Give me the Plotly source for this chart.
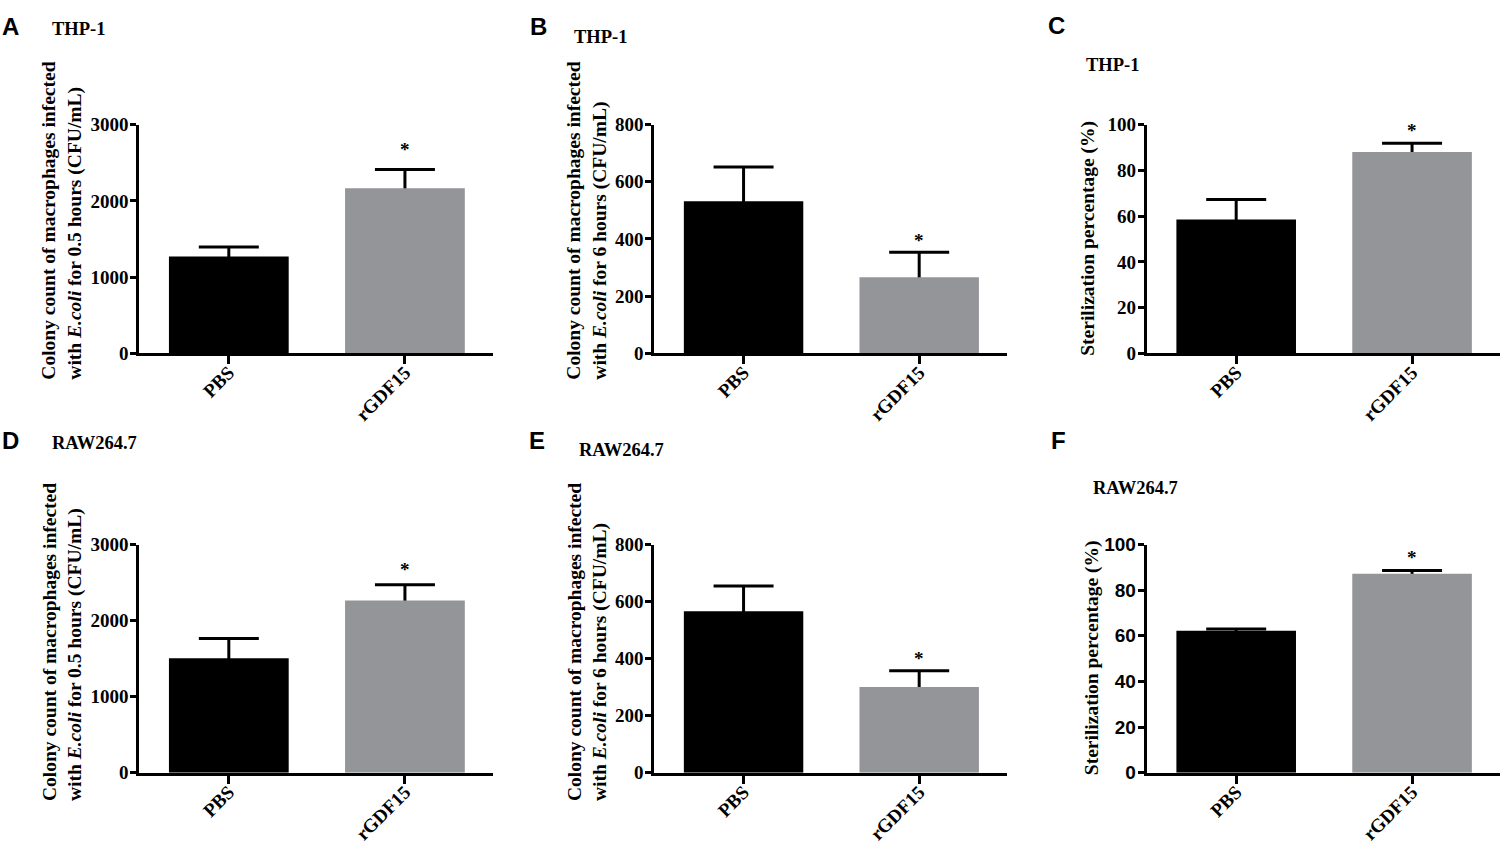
import plotly.graph_objects as go

W, H = 1509, 855

# ---------------- data ----------------
groups = ["PBS", "rGDF15"]
panel_letters = ["A", "B", "C", "D", "E", "F"]
cell_lines = ["THP-1", "THP-1", "THP-1", "RAW264.7", "RAW264.7", "RAW264.7"]

a_mean = [1270, 2165]
a_err = [125, 245]
b_mean = [532, 266]
b_err = [120, 88]
c_mean = [58.5, 88.0]
c_err = [8.8, 3.8]
d_mean = [1505, 2265]
d_err = [260, 205]
e_mean = [566, 301]
e_err = [89, 57]
f_mean = [62.2, 87.2]
f_err = [0.8, 1.4]

y_ranges = [[0, 3000], [0, 800], [0, 100], [0, 3000], [0, 800], [0, 100]]
y_dticks = [1000, 200, 20, 1000, 200, 20]

title_cfu_05 = "Colony count of macrophages infected<br>with <i>E.coli</i> for 0.5 hours (CFU/mL)"
title_cfu_6 = "Colony count of macrophages infected<br>with <i>E.coli</i> for 6 hours (CFU/mL)"
title_steril = "Sterilization percentage (%)"
y_titles = [title_cfu_05, title_cfu_6, title_steril, title_cfu_05, title_cfu_6, title_steril]

means = [a_mean, b_mean, c_mean, d_mean, e_mean, f_mean]
errs = [a_err, b_err, c_err, d_err, e_err, f_err]
significance = ["*", "*", "*", "*", "*", "*"]

# ---------------- layout geometry (pixels) ----------------
col_x = [(139, 493), (654, 1007), (1146.5, 1500)]
row_y = [(117.5, 352), (548, 782)]

bar_colors = ["#000000", "#939598"]
serif = "Liberation Serif"
sans = "Liberation Sans"

# letter (x_left, y_center), subtitle (x_left, y_center), ytitle (x_center, y_bottom)
letter_pos = [(0, 17), (528, 17), (1046, 16), (0, 441), (527, 441), (1049, 441)]
sub_pos = [(50, 19), (572, 28), (1084, 56), (50, 444), (577, 451), (1091, 490)]
ytitle_pos = [(62, 381), (587, 381), (1088, 357), (62, 813), (587, 813), (1092, 787)]
star_shift = [8, -1, 0, 3, 0, 1]
tick_families = [serif, serif, serif, serif, serif, sans]
cap_hide = 0.012  # fraction of y range used to tuck the lower cap under the bar top


def px_x(x):
    return x / W


def px_y(y):
    return 1 - y / H


fig = go.Figure()
annotations = []
layout_axes = {}

for i in range(6):
    r, c = divmod(i, 3)
    n = "" if i == 0 else str(i + 1)
    xa, ya = "x" + n, "y" + n
    delta = cap_hide * (y_ranges[i][1] - y_ranges[i][0])
    # error bars (drawn first so the visible bars cover their lower cap)
    fig.add_trace(go.Bar(
        x=groups, y=[m - delta for m in means[i]],
        marker=dict(color="rgba(0,0,0,0)", line=dict(width=0)),
        width=0.68,
        error_y=dict(type="data", array=[e + delta for e in errs[i]], arrayminus=[0, 0],
                     symmetric=False, color="black", thickness=3, width=30),
        xaxis=xa, yaxis=ya, showlegend=False, hoverinfo="skip",
    ))
    fig.add_trace(go.Bar(
        x=groups, y=means[i],
        marker=dict(color=bar_colors, line=dict(width=0)),
        width=0.68,
        xaxis=xa, yaxis=ya, showlegend=False,
    ))
    x0, x1 = col_x[c]
    yt, yb = row_y[r]
    layout_axes["xaxis" + n] = dict(
        domain=[px_x(x0), px_x(x1)], anchor=ya, range=[-0.51, 1.5],
        showline=True, linecolor="black", linewidth=2.5,
        ticks="outside", ticklen=8, tickwidth=2.5, tickcolor="black",
        tickangle=-45, showgrid=False, zeroline=False, ticklabelstandoff=-10,
        tickfont=dict(family=serif, size=19, color="black", weight="bold"),
    )
    layout_axes["yaxis" + n] = dict(
        domain=[px_y(yb), px_y(yt)], anchor=xa, range=y_ranges[i], dtick=y_dticks[i],
        showline=True, linecolor="black", linewidth=2.5,
        ticks="outside", ticklen=6, tickwidth=2.5, tickcolor="black",
        showgrid=False, zeroline=False, ticklabelstandoff=-2,
        tickfont=dict(family=tick_families[i], size=19, color="black", weight="bold"),
    )
    # significance star
    annotations.append(dict(
        x=groups[1], y=means[i][1] + errs[i][1], xref=xa, yref=ya,
        text=significance[i], showarrow=False, yanchor="bottom", yshift=star_shift[i],
        font=dict(family=serif, size=19, color="black", weight="bold"),
    ))
    # panel letter
    lx, ly = letter_pos[i]
    annotations.append(dict(
        x=px_x(lx), y=px_y(ly), xref="paper", yref="paper", xanchor="left", yanchor="middle",
        text=panel_letters[i], showarrow=False,
        font=dict(family=sans, size=24, color="black", weight="bold"),
    ))
    # cell line subtitle
    sx, sy = sub_pos[i]
    annotations.append(dict(
        x=px_x(sx), y=px_y(sy), xref="paper", yref="paper", xanchor="left", yanchor="middle",
        text=cell_lines[i], showarrow=False,
        font=dict(family=serif, size=18.5, color="black", weight="bold"),
    ))
    # y axis title
    tx, ty = ytitle_pos[i]
    annotations.append(dict(
        x=px_x(tx), y=px_y(ty), xref="paper", yref="paper", xanchor="center", yanchor="bottom",
        text=y_titles[i], showarrow=False, textangle=-90, align="left",
        font=dict(family=serif, size=19.5, color="black", weight="bold"),
    ))

fig.update_layout(
    width=W, height=H, margin=dict(l=0, r=0, t=0, b=0),
    paper_bgcolor="white", plot_bgcolor="white", barmode="overlay",
    annotations=annotations, hovermode=False,
    **layout_axes,
)

fig.write_html(
    "out.html",
    config={"displayModeBar": False},
    post_script="document.body.style.margin='0';document.body.style.overflow='hidden';",
)
